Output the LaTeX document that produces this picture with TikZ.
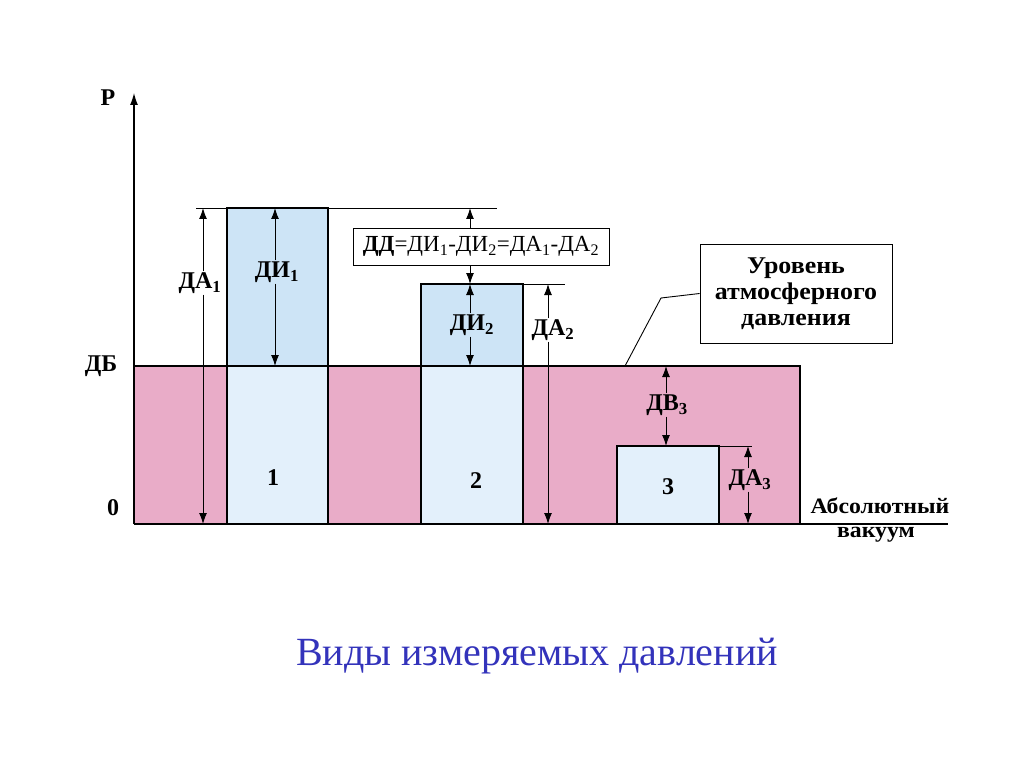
\documentclass[tikz,border=0pt]{standalone}
\usepackage{fontspec}
\setmainfont{Liberation Serif}
\newfontfamily\wideserif{Liberation Serif}[FakeStretch=1.08]
\usetikzlibrary{arrows.meta}
\definecolor{pinkfill}{RGB}{233,172,200}
\definecolor{bluetop}{RGB}{205,228,246}
\definecolor{bluebot}{RGB}{227,240,251}
\definecolor{titleblue}{RGB}{51,51,187}
\begin{document}
\begin{tikzpicture}[x=1pt,y=-1pt,
  boxline/.style={line width=1.6pt},
  thin/.style={line width=0.9pt},
  dim/.style={line width=1pt,-{Latex[length=11pt,width=8pt]}},
  lab/.style={font=\fontsize{24}{26}\selectfont\bfseries, inner sep=1pt},
  vaclab/.style={font=\wideserif\fontsize{22}{24}\selectfont\bfseries, inner sep=0pt},
]
\useasboundingbox (0,0) rectangle (1024,767);
\fill[white] (0,0) rectangle (1024,767);
% fills
\fill[pinkfill] (134,366) rectangle (800,524);
\fill[bluetop] (227,208) rectangle (328,366);
\fill[bluebot] (227,366) rectangle (328,524);
\fill[bluetop] (421,284) rectangle (523,366);
\fill[bluebot] (421,366) rectangle (523,524);
\fill[bluebot] (617,446) rectangle (719,524);
% outlines
\draw[boxline] (134,366) -- (800,366) -- (800,524);
\draw[boxline] (227,524) -- (227,208) -- (328,208) -- (328,524);
\draw[boxline] (421,524) -- (421,284) -- (523,284) -- (523,524);
\draw[boxline] (617,524) -- (617,446) -- (719,446) -- (719,524);
% axes
\coordinate (o) at (134,524);
\coordinate (ptop) at (134,93);
\coordinate (xend) at (948,524);
\draw[line width=1.2pt,-{Latex[length=12pt,width=8pt]}] (o) -- (ptop);
\draw[boxline] (o) -- (xend);
% reference lines
\draw[thin] (196,208) -- (497,208);
\draw[thin] (523,284) -- (565,284);
\draw[thin] (719,446) -- (752,446);
% axis labels
\node[lab] (p) at (108,98) {Р};
\node[lab] (db) at (101,366) {ДБ};
\node[lab] (zero) at (113,508) {0};
% DA1
\node[lab] (da1) at (200,283) {ДА\textsubscript{1}};
\coordinate (da1t) at (203,208);
\coordinate (da1b) at (203,524);
\draw[dim] (da1.north -| da1t) -- (da1t);
\draw[dim] (da1.south -| da1b) -- (da1b);
% DI1
\node[lab] (di1) at (277,272) {ДИ\textsubscript{1}};
\coordinate (di1t) at (275,208);
\coordinate (di1b) at (275,366);
\draw[dim] (di1.north -| di1t) -- (di1t);
\draw[dim] (di1.south -| di1b) -- (di1b);
% DD
\node[draw,thin,fill=white,minimum width=256pt,minimum height=37pt,inner sep=0pt,
  font=\fontsize{23}{25}\selectfont] (dd) at (481,246.5)
  {\textbf{ДД}=ДИ\textsubscript{1}-ДИ\textsubscript{2}=ДА\textsubscript{1}-ДА\textsubscript{2}};
\coordinate (ddt) at (470,208);
\coordinate (ddb) at (470,284);
\draw[dim] (dd.north -| ddt) -- (ddt);
\draw[dim] (dd.south -| ddb) -- (ddb);
% DI2
\node[lab] (di2) at (472,325) {ДИ\textsubscript{2}};
\coordinate (di2t) at (470,284);
\coordinate (di2b) at (470,366);
\draw[dim] (di2.north -| di2t) -- (di2t);
\draw[dim] (di2.south -| di2b) -- (di2b);
% DA2
\node[lab] (da2) at (553,330) {ДА\textsubscript{2}};
\coordinate (da2t) at (548,284);
\coordinate (da2b) at (548,524);
\draw[dim] (da2.north -| da2t) -- (da2t);
\draw[dim] (da2.south -| da2b) -- (da2b);
% DV3
\node[lab] (dv3) at (667,405) {ДВ\textsubscript{3}};
\coordinate (dv3t) at (666,366);
\coordinate (dv3b) at (666,446);
\draw[dim] (dv3.north -| dv3t) -- (dv3t);
\draw[dim] (dv3.south -| dv3b) -- (dv3b);
% DA3
\node[lab] (da3) at (750,480) {ДА\textsubscript{3}};
\coordinate (da3t) at (748,446);
\coordinate (da3b) at (748,524);
\draw[dim] (da3.north -| da3t) -- (da3t);
\draw[dim] (da3.south -| da3b) -- (da3b);
% column numbers
\node[lab] (n1) at (273,478) {1};
\node[lab] (n2) at (476,481) {2};
\node[lab] (n3) at (668,487) {3};
% callout
\node[draw,thin,fill=white,minimum width=192pt,minimum height=99pt,align=center,
  font=\wideserif\fontsize{24}{26}\selectfont\bfseries] (call) at (796,293.5)
  {Уровень\\атмосферного\\давления};
\coordinate (bend) at (661,298);
\coordinate (lvl) at (625,366);
\draw[thin] (call.west) -- (bend) -- (lvl);
% vacuum
\node[vaclab] (abs) at (880,506) {Абсолютный};
\node[vaclab] (vac) at (876,535) {вакуум};
% title
\node[text=titleblue,font=\fontsize{40}{46}\selectfont] (title) at (537,656) {Виды измеряемых давлений};
\end{tikzpicture}
\end{document}
